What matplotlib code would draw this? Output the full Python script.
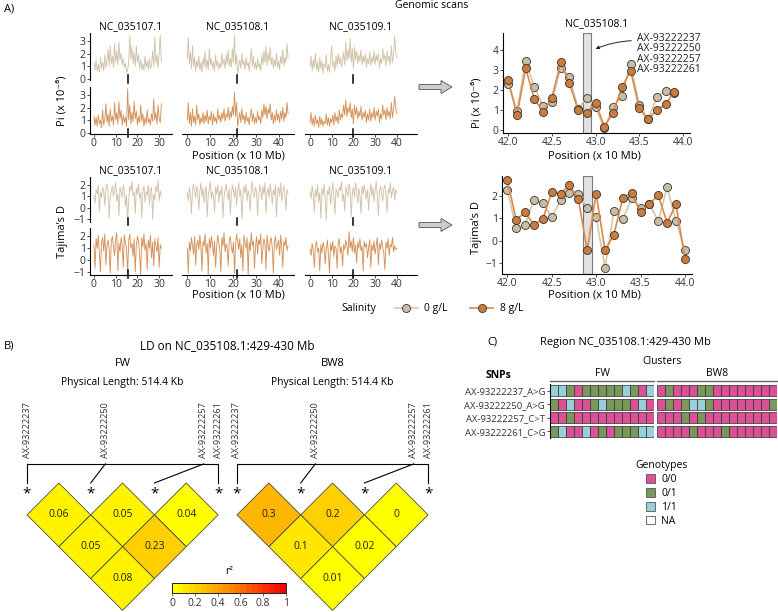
import numpy as np
import matplotlib.pyplot as plt
import matplotlib.cm as cm
from matplotlib.colors import LinearSegmentedColormap, Normalize
from matplotlib.patches import Polygon, Patch, FancyArrow
from matplotlib.lines import Line2D
from matplotlib.transforms import blended_transform_factory

plt.rcParams['font.family'] = ['Open Sans', 'DejaVu Sans']
plt.rcParams['font.size'] = 7.5
plt.rcParams['axes.linewidth'] = 0.8
plt.rcParams['xtick.color'] = '#333333'
plt.rcParams['ytick.color'] = '#333333'

# ---------------- data ----------------
chrom_names = ['NC_035107.1', 'NC_035108.1', 'NC_035109.1']
chrom_len = [31, 44, 40]
sweep_pos = [15.5, 21.7, 19.8]

# Pi (x 10^-6) genomic scans, 0 g/L (FW) and 8 g/L (BW8)
pi_fw_1 = [1.2, 0.7, 1.5, 0.6, 1.1, 0.5, 1.7, 0.8, 1.3, 0.6,
           1.9, 0.9, 1.4, 2.3, 1.0, 2.6, 1.2, 1.8, 0.9, 2.8,
           1.3, 2.2, 1.1, 2.9, 1.5, 2.0, 1.1, 1.6, 0.9, 1.2,
           0.5, 0.7, 1.3, 3.4, 1.6, 2.5, 1.2, 2.1, 1.0, 2.6,
           1.3, 1.9, 0.8, 1.5, 0.7, 1.2, 0.6, 1.8, 0.9, 1.4,
           0.7, 1.6, 0.8, 1.1, 2.2, 1.0, 3.3, 1.2, 1.9, 0.9,
           2.0, 3.5, 1.3]
pi_bw_1 = [1.3, 0.6, 1.2, 0.5, 1.4, 0.7, 1.0, 0.4, 1.8, 0.6,
           1.1, 2.3, 0.8, 1.5, 0.5, 1.9, 0.9, 1.3, 0.6, 2.4,
           1.0, 1.6, 0.7, 2.5, 1.1, 1.8, 0.6, 1.4, 0.8, 1.2,
           0.5, 3.5, 1.0, 2.2, 0.7, 1.6, 0.9, 2.5, 1.1, 1.7,
           0.6, 1.3, 0.8, 2.2, 0.9, 1.5, 0.5, 1.2, 0.7, 1.8,
           0.8, 1.1, 0.6, 1.5, 0.9, 2.7, 1.0, 1.6, 0.7, 2.2,
           1.1, 0.8, 2.3]
pi_fw_2 = [1.6, 3.3, 1.2, 2.1, 0.8, 2.6, 1.0, 1.7, 0.6, 1.4,
           0.9, 1.8, 0.7, 1.3, 0.5, 1.6, 1.0, 2.2, 0.8, 1.5,
           0.7, 2.4, 1.1, 1.6, 0.8, 1.3, 0.6, 1.9, 1.0, 1.4,
           0.7, 1.2, 0.9, 2.0, 1.1, 1.5, 0.8, 1.9, 1.2, 2.3,
           1.0, 1.6, 0.9, 2.4, 1.3, 3.5, 1.1, 1.9, 0.4, 1.0,
           1.5, 0.8, 2.0, 1.1, 1.4, 0.7, 1.7, 1.0, 1.3, 0.6,
           1.5, 2.4, 1.0, 1.8, 0.8, 1.3, 0.7, 1.6, 0.9, 1.2,
           0.6, 1.9, 1.1, 2.2, 1.3, 2.6, 1.0, 2.0, 1.4, 2.5,
           1.1, 1.7, 0.8, 1.5, 1.0, 2.0, 0.9, 1.4, 0.7, 1.8,
           1.2, 2.3, 1.0, 1.7, 1.3, 2.8, 1.6]
pi_bw_2 = [1.0, 2.4, 0.7, 1.6, 0.5, 1.9, 0.8, 1.3, 0.6, 2.2,
           1.0, 1.5, 0.6, 1.2, 0.8, 1.6, 0.7, 1.4, 0.9, 1.8,
           0.7, 1.3, 1.0, 1.7, 0.6, 1.5, 0.9, 1.2, 0.7, 1.9,
           1.0, 1.4, 0.8, 1.6, 1.1, 1.9, 0.9, 1.5, 1.2, 2.0,
           1.0, 1.7, 1.2, 2.1, 1.4, 3.2, 1.3, 2.4, 0.5, 1.1,
           1.6, 0.8, 1.9, 1.0, 1.4, 0.7, 1.6, 0.9, 1.2, 0.6,
           1.4, 1.9, 0.9, 1.5, 0.7, 1.2, 0.8, 1.7, 1.0, 1.3,
           0.7, 1.8, 1.2, 2.3, 1.4, 2.1, 1.1, 1.9, 1.5, 2.3,
           1.0, 1.6, 0.7, 1.4, 0.9, 1.8, 1.0, 1.5, 0.8, 1.7,
           1.1, 2.0, 0.9, 1.6, 1.2, 2.4, 1.5]
pi_fw_3 = [1.0, 1.8, 0.6, 1.5, 0.9, 2.0, 0.7, 1.3, 0.5, 1.7,
           0.8, 1.4, 0.4, 1.2, 0.9, 1.9, 0.6, 1.1, 0.5, 1.6,
           2.6, 0.9, 1.4, 0.6, 1.8, 1.0, 2.0, 1.2, 1.7, 0.9,
           1.5, 2.1, 1.1, 2.9, 1.4, 2.3, 1.6, 3.2, 1.3, 2.4,
           0.8, 2.5, 1.5, 2.2, 1.2, 1.9, 1.4, 2.3, 1.1, 1.8,
           1.3, 2.0, 0.9, 1.6, 1.2, 2.1, 1.0, 1.7, 1.3, 2.2,
           1.1, 1.9, 1.4, 2.0, 0.9, 1.6, 1.2, 2.4, 1.5, 1.9,
           1.0, 2.2, 1.4, 1.8, 1.1, 2.6, 1.3, 1.9, 3.4, 2.1,
           1.6]
pi_bw_3 = [0.8, 1.6, 0.6, 1.2, 0.5, 1.4, 0.7, 1.0, 0.4, 1.3,
           0.6, 1.1, 0.5, 0.9, 0.7, 1.5, 0.6, 1.2, 0.5, 1.1,
           0.8, 1.4, 0.6, 1.6, 0.9, 1.3, 0.7, 1.8, 1.0, 1.5,
           1.2, 2.2, 1.4, 2.6, 1.3, 2.0, 1.6, 2.4, 1.2, 1.9,
           0.7, 2.2, 1.4, 2.0, 1.1, 1.7, 1.3, 2.1, 1.0, 1.6,
           1.2, 1.8, 0.8, 1.5, 1.0, 1.9, 0.9, 1.6, 1.2, 2.0,
           1.0, 1.7, 1.3, 1.9, 0.8, 1.5, 1.1, 2.2, 1.4, 1.8,
           1.0, 2.0, 1.3, 1.7, 1.1, 2.4, 1.2, 1.8, 2.9, 1.9,
           1.5]

# Tajima's D genomic scans
td_fw_1 = [1.1, 0.4, 1.6, 1.2, 2.0, -0.3, 1.4, 0.9, 1.8, 1.5,
           0.2, 1.7, 2.1, 1.3, -0.9, 0.8, 1.5, 1.9, 1.0, 1.6,
           2.2, 0.6, 1.2, -0.7, 1.8, 1.4, 0.9, 2.0, 1.3, 0.1,
           1.1, -1.1, 0.7, 1.9, 1.5, 2.3, 1.0, 1.4, -0.5, 1.7,
           1.2, 2.1, 0.8, 1.3, -0.9, 1.6, 1.9, 0.5, 1.4, 1.1,
           2.0, 0.3, 1.5, 1.8, -1.0, 1.2, 0.7, 1.9, 1.4, 2.4,
           0.6, 1.5, 1.0]
td_bw_1 = [1.3, -0.7, 1.8, 1.0, 2.1, 0.6, -1.0, 1.5, 1.9, 0.8,
           2.2, -0.4, 1.2, 1.7, 0.9, -1.1, 1.6, 2.0, 1.1, 0.4,
           1.8, 2.3, -0.9, 1.4, 0.7, 1.9, 1.2, -0.6, 2.1, 1.5,
           0.9, -1.2, 1.7, 2.2, 1.0, 1.4, 0.3, 1.8, -1.0, 1.3,
           2.0, 1.6, 0.5, -1.2, 1.9, 1.1, 2.2, 0.8, 1.4, -0.8,
           1.7, 1.0, 2.1, 0.2, 1.5, -0.5, 1.8, 1.2, 0.7, 1.9,
           -0.6, 1.3, 1.0]
td_fw_2 = [1.3, 0.6, 1.8, 1.1, -0.5, 1.6, 2.1, 1.4, 0.9, 1.9,
           1.2, -0.2, 1.5, 2.2, 1.0, 1.7, 0.4, 1.3, 1.9, -0.8,
           1.1, 1.6, 2.3, 0.8, 1.4, 1.0, -0.4, 1.8, 1.2, 2.0,
           0.5, 1.5, 1.1, 1.9, -0.9, 0.9, 1.6, 2.1, 1.3, 0.7,
           1.7, -0.6, 1.2, 2.0, 1.5, 0.9, 1.8, 0.2, 1.4, 2.2,
           1.0, 1.6, -1.0, 0.8, 1.9, 1.3, 2.1, 0.6, 1.5, 1.1,
           -0.3, 1.7, 2.3, 1.2, 0.9, 1.8, 1.4, -0.7, 1.0, 2.0,
           1.5, 0.7, 1.9, 1.2, 2.2, -0.5, 1.3, 1.7, 0.9, 2.1,
           1.4, 0.3, 1.6, 1.1, 2.0, -0.8, 1.5, 1.8, 1.0, 2.2,
           0.6, 1.4, 1.9, 1.2, -0.2, 1.6, 1.3]
td_bw_2 = [1.0, -1.1, 1.5, 0.8, 1.9, 1.2, 0.5, 2.0, -0.4, 1.3,
           1.7, 0.9, 2.1, 1.1, -0.9, 1.6, 1.2, 2.2, 0.6, 1.4,
           -1.2, 1.8, 1.0, 2.0, 1.3, 0.4, 1.6, -0.6, 1.1, 2.1,
           1.5, 0.8, -1.0, 1.9, 1.2, 2.3, 0.7, 1.4, 1.0, -0.5,
           1.7, 2.0, 1.1, 0.6, 1.5, -1.1, 1.2, 2.2, 1.6, 0.9,
           1.8, 0.2, 1.3, -0.9, 2.1, 1.4, 1.0, 1.9, -1.2, 1.5,
           0.8, 2.3, 1.2, 1.6, -0.7, 1.1, 2.0, 0.5, 1.7, 1.3,
           2.2, -0.3, 1.0, 1.8, 1.4, -0.8, 2.1, 1.2, 0.7, 1.6,
           1.9, 1.0, -1.1, 1.5, 2.0, 0.9, 1.3, 1.7, 0.4, 2.1,
           1.1, -0.6, 1.6, 1.2, 1.9, 0.8, 1.2]
td_fw_3 = [1.4, 0.8, 1.9, 1.2, -0.4, 1.6, 1.0, 2.0, 0.5, 1.3,
           -0.9, 1.7, 1.1, 2.1, 0.7, -1.1, 1.5, 1.2, 1.9, 0.3,
           1.4, 2.2, 1.0, -0.6, 1.7, 1.3, 0.9, 1.8, 1.5, 2.3,
           0.6, 1.2, -0.3, 1.9, 1.4, 1.0, 2.1, 1.6, -0.8, 1.3,
           1.8, 0.9, 2.2, 1.5, 0.4, 1.7, 1.1, -0.5, 1.9, 1.2,
           2.0, 1.4, 0.8, 1.6, -0.2, 1.3, 2.1, 1.0, 1.8, 0.5,
           1.5, 2.3, 1.1, -0.7, 1.4, 1.9, 1.2, 0.6, 1.7, 2.0,
           1.0, -0.4, 1.6, 1.3, 2.2, 0.9, 1.5, 1.8, 0.7, 1.6,
           1.3]
td_bw_3 = [0.9, 0.4, 1.4, 0.8, -0.6, 1.2, 1.6, 0.7, 1.0, -0.9,
           1.3, 0.6, 1.5, 1.1, -0.3, 0.9, 1.7, 0.5, -1.1, 1.4,
           0.8, 1.6, 0.3, 1.2, 1.0, -0.7, 1.5, 1.8, 0.6, 1.1,
           -0.5, 1.3, 0.9, 1.7, 1.2, 0.4, 2.4, 1.0, 1.6, 0.7,
           1.9, 0.6, 1.3, -0.2, 1.5, 1.0, 1.8, 0.8, 1.2, -0.9,
           1.6, 1.1, 1.4, 0.2, 1.0, 1.7, -0.6, 1.3, 0.8, 1.6,
           0.5, 1.2, 1.9, -0.4, 1.4, 0.9, 1.7, 1.1, 0.6, -0.8,
           1.5, 1.0, 1.8, 0.4, 1.3, 1.1, 1.9, 0.7, 1.2, 0.9,
           1.0]

# zoomed region NC_035108.1 (x 10 Mb)
win_pos = [42.0, 42.1, 42.2, 42.3, 42.4, 42.5, 42.6, 42.7, 42.8, 42.9, 43.0,
           43.1, 43.2, 43.3, 43.4, 43.5, 43.6, 43.7, 43.8, 43.9, 44.0]
pi_zoom_fw = [2.28, 0.97, 3.45, 2.13, 1.2, 1.42, 3.12, 2.67, 1.07, 1.62,
              1.13, 0.08, 1.17, 1.7, 3.28, 1.23, 0.53, 1.63, 1.97, 1.83]
pi_zoom_bw = [2.5, 0.75, 3.08, 1.55, 0.9, 1.62, 3.38, 2.33, 1.0, 0.87,
              1.37, 0.17, 0.87, 2.13, 2.97, 1.08, 0.53, 1.0, 1.28, 1.92]
td_zoom_fw = [2.27, 0.55, 0.69, 1.82, 1.67, 1.05, 1.8, 2.13, 2.1, 1.45, 1.06,
              -1.2, 1.34, 0.95, 1.88, 1.46, 1.64, 0.87, 2.38, 0.86, -0.41]
td_zoom_bw = [2.69, 0.93, 1.26, 0.71, 0.96, 2.16, 2.1, 2.47, 1.85, -0.43, 2.1,
              -0.43, 0.27, 1.9, 2.13, 1.26, 1.64, 2.02, 0.8, 1.62, -0.8]
region = (42.85, 42.95)
snp_ids = ['AX-93222237', 'AX-93222250', 'AX-93222257', 'AX-93222261']
salinity = ['0 g/L', '8 g/L']

# LD (r2) between SNP pairs (i, j)
ld_pairs = [(0, 1), (1, 2), (2, 3), (0, 2), (1, 3), (0, 3)]
ld_fw = [0.06, 0.05, 0.04, 0.05, 0.23, 0.08]
ld_bw = [0.3, 0.2, 0, 0.1, 0.02, 0.01]
snp_map = [0, 0.41, 0.925, 1.0]   # relative physical position over 514.4 kb

# genotypes: 0 = 0/0, 1 = 0/1, 2 = 1/1
snp_alleles = ['AX-93222237_A>G', 'AX-93222250_A>G', 'AX-93222257_C>T', 'AX-93222261_C>G']
geno_fw = [[2, 2, 1, 0, 1, 1, 1, 1, 1, 2, 1, 0, 2],
           [1, 0, 2, 0, 0, 1, 2, 1, 1, 1, 0, 2, 0],
           [0, 0, 1, 0, 0, 0, 0, 0, 0, 0, 0, 0, 0],
           [1, 2, 0, 0, 2, 0, 1, 0, 1, 1, 1, 2, 2]]
geno_bw = [[0, 1, 0, 0, 0, 1, 1, 0, 0, 0, 0, 0, 0, 0, 0],
           [0, 1, 0, 1, 2, 2, 1, 0, 0, 0, 0, 0, 0, 0, 1],
           [0, 0, 0, 1, 0, 1, 0, 0, 0, 0, 0, 0, 0, 0, 0],
           [0, 0, 0, 0, 1, 0, 0, 0, 1, 0, 0, 0, 0, 0, 0]]
geno_labels = ['0/0', '0/1', '1/1', 'NA']

# ---------------- styles ----------------
beige_line = '#CBBC9F'
orange_line = '#D08648'
beige_pt = '#C9BDA4'
orange_pt = '#CC7B3B'
geno_cols = ['#DC5096', '#7A985C', '#98D0DA', '#FFFFFF']
heat = LinearSegmentedColormap.from_list('heat', ['#FFFF00', '#FF8C00', '#FF0000'], N=20)

W, H = 778, 612
fig = plt.figure(figsize=(W / 100, H / 100), dpi=100)


def box(x0, y0, x1, y1):
    return fig.add_axes([x0 / W, 1 - y1 / H, (x1 - x0) / W, (y1 - y0) / H])


def ftext(x, y, s, **kw):
    kw.setdefault('ha', 'center')
    kw.setdefault('va', 'center')
    fig.text(x / W, 1 - y / H, s, **kw)


# overlay in pixel units for block arrows
ov = box(0, 0, W, H)
ov.set_xlim(0, W)
ov.set_ylim(H, 0)
ov.axis('off')
for yy in (87, 225):
    ov.add_patch(FancyArrow(419, yy, 33, 0, width=5, head_width=13, head_length=11,
                            length_includes_head=True, fc='#cdcdcd', ec='#555555', lw=0.6))

# ---------------- A) genomic scans ----------------
ftext(4, 9, 'A)', ha='left', fontsize=8)
ftext(432, 6, 'Genomic scans', fontsize=7.5)

col_px = [(90, 172), (182, 294), (305, 417)]
col_xlim = [(-1.8, 35.9), (-2.3, 46.6), (-2.3, 49.3)]
row_px = [(33, 80), (87, 134), (177, 222), (228, 275)]
rows = [([pi_fw_1, pi_fw_2, pi_fw_3], beige_line, (-0.12, 3.65), [0, 1, 2, 3], False),
        ([pi_bw_1, pi_bw_2, pi_bw_3], orange_line, (-0.12, 3.65), [0, 1, 2, 3], True),
        ([td_fw_1, td_fw_2, td_fw_3], beige_line, (-1.25, 2.7), [-1, 0, 1, 2], False),
        ([td_bw_1, td_bw_2, td_bw_3], orange_line, (-1.25, 2.7), [-1, 0, 1, 2], True)]

for r, (series, colr, ylim, yt, bottom) in enumerate(rows):
    for c in range(3):
        ax = box(col_px[c][0], row_px[r][0], col_px[c][1], row_px[r][1])
        ax.set_facecolor('none')
        y = series[c]
        x = np.linspace(0, chrom_len[c], len(y))
        ax.plot(x, y, color=colr, lw=0.65, alpha=0.9)
        ax.set_xlim(*col_xlim[c])
        ax.set_ylim(*ylim)
        for s in ('top', 'right'):
            ax.spines[s].set_visible(False)
        tr = blended_transform_factory(ax.transData, ax.transAxes)
        ax.plot([sweep_pos[c]] * 2, [-0.06, 0.1], transform=tr, color='black',
                lw=1.1, clip_on=False)
        ax.tick_params(length=2, width=0.6, pad=1, labelsize=7.5)
        if c == 0:
            ax.set_yticks(yt)
        else:
            ax.spines['left'].set_visible(False)
            ax.set_yticks([])
        if bottom:
            ax.set_xticks([0, 10, 20, 30] if c == 0 else [0, 10, 20, 30, 40])
        else:
            ax.spines['bottom'].set_visible(False)
            ax.set_xticks([])
        if r in (0, 2):
            ax.set_title(chrom_names[c], fontsize=7.5, pad=2.5)

ftext(62, 101, 'Pi (x 10⁻⁶)', rotation=90, fontsize=8)
ftext(62, 232, 'Tajima’s D', rotation=90, fontsize=8)
ftext(238, 156, 'Position (x 10 Mb)', fontsize=8)
ftext(238, 295, 'Position (x 10 Mb)', fontsize=8)

# zoomed panels
zp = [(box(503, 33, 690, 133), pi_zoom_fw, pi_zoom_bw, (-0.15, 4.85), [0, 1, 2, 3, 4]),
      (box(502, 176, 692, 274), td_zoom_fw, td_zoom_bw, (-1.48, 2.88), [-1, 0, 1, 2])]
for k, (ax, yfw, ybw, ylim, yt) in enumerate(zp):
    ax.set_facecolor('none')
    ax.axvspan(region[0], region[1], facecolor='#e2e2e2', edgecolor='#7a7a7a', lw=0.8, zorder=0)
    ax.plot(win_pos[:len(yfw)], yfw, color='#D3C7AF', lw=1.2, marker='o', ms=5.8,
            mfc=beige_pt, mec='#333333', mew=0.6)
    ax.plot(win_pos[:len(ybw)], ybw, color='#D98A4C', lw=1.2, marker='o', ms=5.8,
            mfc=orange_pt, mec='#333333', mew=0.6)
    ax.set_xlim(41.94, 44.08)
    ax.set_ylim(*ylim)
    ax.set_yticks(yt)
    ax.set_xticks([42.0, 42.5, 43.0, 43.5, 44.0])
    ax.set_xticklabels(['42.0', '42.5', '43.0', '43.5', '44.0'])
    for s in ('top', 'right'):
        ax.spines[s].set_visible(False)
    ax.tick_params(length=2, width=0.6, pad=1, labelsize=7.5)
    if k == 0:
        ax.set_title('NC_035108.1', fontsize=7.5, pad=5)
        ax.text(43.47, 4.85, '\n'.join(snp_ids), ha='left', va='top', fontsize=7.5,
                linespacing=0.93, color='#222222', clip_on=False)
        ax.annotate('', xy=(42.97, 4.0), xytext=(43.44, 4.47),
                    arrowprops=dict(arrowstyle='-|>', connectionstyle='arc3,rad=0.1',
                                    lw=0.7, color='#222222', mutation_scale=5))

ftext(477, 103, 'Pi (x 10⁻⁶)', rotation=90, fontsize=8)
ftext(477, 228, 'Tajima’s D', rotation=90, fontsize=8)
ftext(594, 156, 'Position (x 10 Mb)', fontsize=8)
ftext(594, 295, 'Position (x 10 Mb)', fontsize=8)

# salinity legend
ftext(359, 309, 'Salinity', fontsize=7.5)
sal_handles = [Line2D([], [], color='#D3C7AF', lw=1.2, marker='o', ms=5.8, mfc=beige_pt,
                      mec='#333333', mew=0.6),
               Line2D([], [], color='#D98A4C', lw=1.2, marker='o', ms=5.8, mfc=orange_pt,
                      mec='#333333', mew=0.6)]
fig.legend(sal_handles, salinity, ncol=2, loc='center left', bbox_to_anchor=(395 / W, 1 - 309 / H),
           frameon=False, handlelength=2.2, columnspacing=2.2, handletextpad=0.6,
           borderpad=0, borderaxespad=0, fontsize=7.5)

# ---------------- B) LD heatmaps ----------------
ftext(4, 346, 'B)', ha='left', fontsize=8)
ftext(227, 346, 'LD on NC_035108.1:429-430 Mb', fontsize=8.5)

s = 63.7
norm = Normalize(0, 1)
for x0, name, vals in ((27, 'FW', ld_fw), (237, 'BW8', ld_bw)):
    ax = box(x0 - 7, 395, x0 + 198, 612)
    ax.set_xlim(-7 / s, 198 / s)
    ax.set_ylim(-(612 - 483) / s, (483 - 395) / s)
    ax.axis('off')
    for (i, j), v in zip(ld_pairs, vals):
        cx, cy = (i + j) / 2, -(j - i) / 2
        ax.add_patch(Polygon([(cx - 0.5, cy), (cx, cy + 0.5), (cx + 0.5, cy), (cx, cy - 0.5)],
                             closed=True, facecolor=heat(norm(v)), edgecolor='#4a4a4a', lw=0.6))
        ax.text(cx, cy, f'{v:g}', ha='center', va='center', fontsize=7.5, color='#222222')
    lab_x = [p * 3 for p in snp_map]
    ax.plot([0, 3], [0.3, 0.3], color='black', lw=0.8)
    for i in range(4):
        ax.plot([lab_x[i], i], [0.3, 0.0], color='black', lw=0.8)
        ax.text(i, -0.17, '*', ha='center', va='center', fontsize=11)
        ax.text(lab_x[i], 0.39, snp_ids[i], rotation=90, ha='center', va='bottom',
                fontsize=6.6, color='#333333', clip_on=False)
    ftext(x0 + 95.5, 363, name, fontsize=8)
    ftext(x0 + 95.5, 383, 'Physical Length: 514.4 Kb', fontsize=7.5)

cax = box(172, 583, 286, 593)
cb = fig.colorbar(cm.ScalarMappable(norm=norm, cmap=heat), cax=cax, orientation='horizontal')
cb.set_ticks([0, 0.2, 0.4, 0.6, 0.8, 1])
cb.set_ticklabels(['0', '0.2', '0.4', '0.6', '0.8', '1'])
cb.outline.set_linewidth(0.6)
cax.tick_params(length=2, width=0.5, pad=1.5, labelsize=7.5)
ftext(229, 572, 'r²', fontsize=7.5)

# ---------------- C) genotype clusters ----------------
ftext(492, 342, 'C)', fontsize=8)
ftext(625, 342, 'Region NC_035108.1:429-430 Mb', fontsize=8)
ftext(662, 362, 'Clusters', fontsize=7.5)
ftext(499, 376, 'SNPs', fontsize=7.5, fontweight='bold')

for k, (x0, x1, name, geno) in enumerate(((550, 654, 'FW', geno_fw), (657, 777, 'BW8', geno_bw))):
    ax = box(x0, 384, x1, 438)
    n = len(geno[0])
    for r, row in enumerate(geno):
        ax.bar(np.arange(n), 0.8, bottom=r - 0.4, width=1.0,
               color=[geno_cols[g] for g in row], edgecolor='#2e2e2e', lw=0.5)
    ax.set_xlim(-0.5, n - 0.5)
    ax.set_ylim(3.5, -0.5)
    for sp in ('top', 'right', 'bottom'):
        ax.spines[sp].set_visible(False)
    ax.set_xticks([])
    if k == 0:
        ax.set_yticks(range(4))
        ax.set_yticklabels(snp_alleles, fontsize=6.8)
        ax.tick_params(axis='y', length=2.5, width=0.6, pad=1)
    else:
        ax.spines['left'].set_visible(False)
        ax.set_yticks([])
    ax.plot([0, 1], [1.055, 1.055], transform=ax.transAxes, color='#666666', lw=1.0,
            clip_on=False)
    ftext((x0 + x1) / 2, 374, name, fontsize=7.5)

g_handles = [Patch(facecolor=c, edgecolor='#555555', lw=0.6) for c in geno_cols]
fig.legend(g_handles, geno_labels, title='Genotypes', loc='upper left',
           bbox_to_anchor=(630 / W, 1 - 455 / H), frameon=False, handlelength=0.85,
           handleheight=0.85, labelspacing=0.28, handletextpad=0.6, borderpad=0,
           fontsize=7.5, title_fontsize=7.5)

fig.savefig('out.png', dpi=100)
